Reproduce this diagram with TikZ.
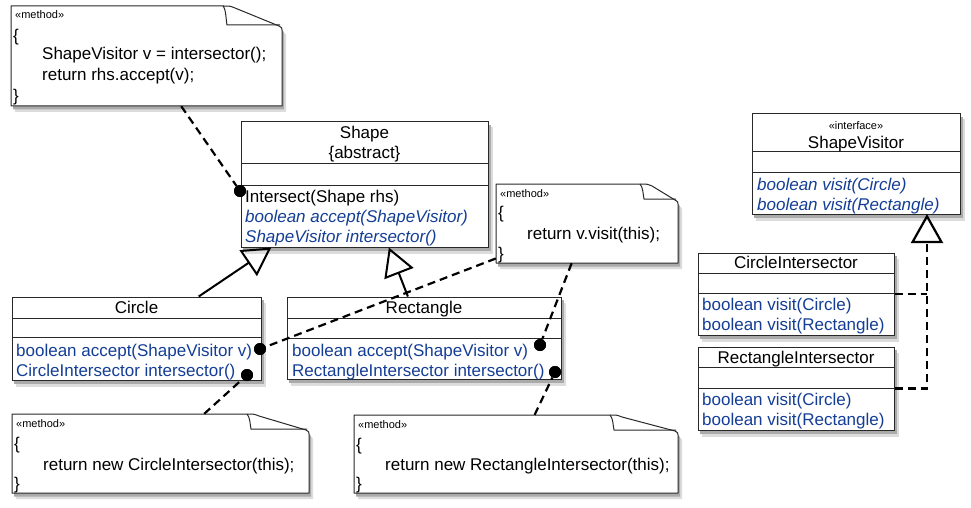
\documentclass[tikz,border=0pt]{standalone}
\usepackage{fontspec}
\setmainfont{Liberation Sans}
\usetikzlibrary{arrows.meta,fit,calc}
\definecolor{umlblue}{RGB}{20,62,150}
\definecolor{edgec}{RGB}{40,40,40}
\definecolor{shadelight}{RGB}{220,220,220}
\definecolor{shadedark}{RGB}{170,170,170}
\pgfdeclarelayer{paper}
\pgfdeclarelayer{shade}
\pgfsetlayers{paper,shade,main}
\tikzset{
  clsbox/.style={fit={#1}, inner sep=0pt, draw=edgec, line width=1pt, fill=white},
  sepline/.style={draw=edgec, line width=1pt},
  ttl/.style={anchor=base, inner sep=0pt, font=\fontsize{17}{20}\selectfont},
  opsit/.style={anchor=base west, inner sep=0pt, font=\fontsize{17}{20}\selectfont\itshape, text=umlblue},
  opsup/.style={anchor=base west, inner sep=0pt, font=\fontsize{17}{20}\selectfont, text=umlblue},
  opk/.style={anchor=base west, inner sep=0pt, font=\fontsize{17}{20}\selectfont},
  stereo/.style={anchor=base, inner sep=0pt, font=\fontsize{11}{13}\selectfont},
  notetxt/.style={anchor=base west, inner sep=0pt, font=\fontsize{17}{20}\selectfont},
  notest/.style={anchor=base west, inner sep=0pt, font=\fontsize{11}{13}\selectfont},
  noteframe/.style={fill=white, draw=edgec, line width=1pt, line join=round},
  dashconn/.style={draw=black, line width=2.2pt, dash pattern=on 8pt off 5pt},
  genconn/.style={draw=black, line width=2pt, -{Triangle[open, length=28pt, width=31pt]}},
  dotn/.style={circle, fill=black, inner sep=0pt, minimum size=12pt},
}
% class box with shadow: #1 name, #2 L, #3 T, #4 R, #5 B
\newcommand\umlclass[5]{%
  \node[clsbox={(#2,#3) (#4,#5)}] (#1) {};
  \begin{pgfonlayer}{shade}
    \fill[shadelight] ([xshift=4pt,yshift=-6pt]#1.south west) rectangle ([xshift=4pt,yshift=-6pt]#1.north east);
    \fill[shadedark] ([xshift=2pt,yshift=-3.5pt]#1.south west) rectangle ([xshift=2pt,yshift=-3.5pt]#1.north east);
  \end{pgfonlayer}
}
% note outline path: L T R B foldx foldh
\newcommand\notepath[6]{(#1,#2) -- (#5,#2) .. controls ({#5+7},#2) .. ({#5+12},{#2+2})
    -- ({#3-3},{#2+#6-4}) .. controls (#3,{#2+#6-2}) .. (#3,{#2+#6})
    -- (#3,#4) -- (#1,#4) -- cycle}
% #1 name, #2 L, #3 T, #4 R, #5 B, #6 fold x, #7 fold height
\newcommand\foldnote[7]{%
  \node[fit={(#2,#3) (#4,#5)}, inner sep=0pt] (#1) {};
  \begin{pgfonlayer}{shade}
    \begin{scope}[shift={(4,6)}]\fill[shadelight] \notepath{#2}{#3}{#4}{#5}{#6}{#7};\end{scope}
    \begin{scope}[shift={(2,3.5)}]\fill[shadedark] \notepath{#2}{#3}{#4}{#5}{#6}{#7};\end{scope}
  \end{pgfonlayer}
  \path[noteframe] \notepath{#2}{#3}{#4}{#5}{#6}{#7};
  \draw[edgec, line width=1pt] (#6,#3) .. controls ({#6+3},{#3+3}) and ({#6+3},{#3+#7-10}) .. ({#6+4},{#3+#7-5}) -- ({#4-2},{#3+#7-5});
}
\begin{document}
\begin{tikzpicture}[x=1pt,y=-1pt]
\useasboundingbox (0,0) rectangle (971,508);
\begin{pgfonlayer}{paper}
\fill[white] (0,0) rectangle (971,508);
\end{pgfonlayer}

% ---------- notes ----------
\foldnote{n1}{11}{6}{282}{106}{223}{24}
\node[notest] (n1s) at (15,19) {«method»};
\node[notetxt] (n1a) at (13,42) {\{};
\node[notetxt] (n1b) at (42,60) {ShapeVisitor v = intersector();};
\node[notetxt] (n1c) at (42,81) {return rhs.accept(v);};
\node[notetxt] (n1d) at (13,102) {\}};

\foldnote{n2}{496}{184}{678}{263}{640}{20}
\node[notest] (n2s) at (500,197) {«method»};
\node[notetxt] (n2a) at (498,218) {\{};
\node[notetxt] (n2b) at (527,239) {return v.visit(this);};
\node[notetxt] (n2d) at (498,259) {\}};

\foldnote{n3}{12}{414}{309}{493}{247}{20}
\node[notest] (n3s) at (16,427) {«method»};
\node[notetxt] (n3a) at (14,449) {\{};
\node[notetxt] (n3b) at (43,470) {return new CircleIntersector(this);};
\node[notetxt] (n3d) at (14,489) {\}};

\foldnote{n4}{354}{415}{678}{493}{610}{20}
\node[notest] (n4s) at (358,428) {«method»};
\node[notetxt] (n4a) at (356,450) {\{};
\node[notetxt] (n4b) at (385,470) {return new RectangleIntersector(this);};
\node[notetxt] (n4d) at (356,489) {\}};

% ---------- classes ----------
\umlclass{shape}{241}{122}{488}{247}
\draw[sepline] (241,163) -- (488,163);
\draw[sepline] (241,185) -- (488,185);
\node[ttl] (shapet) at (364.5,139) {Shape};
\node[ttl] (shapea) at (364.5,158) {\{abstract\}};
\node[opk] (shapeo1) at (245,202) {Intersect(Shape rhs)};
\node[opsit] (shapeo2) at (245,222) {boolean accept(ShapeVisitor)};
\node[opsit] (shapeo3) at (245,242) {ShapeVisitor intersector()};

\umlclass{circle}{12}{297}{261}{380}
\draw[sepline] (12,318) -- (261,318);
\draw[sepline] (12,337) -- (261,337);
\node[ttl] (circlet) at (136.5,313.5) {Circle};
\node[opsup] (circleo1) at (16,356) {boolean accept(ShapeVisitor v)};
\node[opsup] (circleo2) at (16,376) {CircleIntersector intersector()};

\umlclass{rect}{287}{297}{561}{379}
\draw[sepline] (287,318) -- (561,318);
\draw[sepline] (287,338) -- (561,338);
\node[ttl] (rectt) at (424,313.5) {Rectangle};
\node[opsup] (recto1) at (292,356) {boolean accept(ShapeVisitor v)};
\node[opsup] (recto2) at (292,376) {RectangleIntersector intersector()};

\umlclass{sv}{752}{114}{960}{214}
\draw[sepline] (752,151) -- (960,151);
\draw[sepline] (752,172) -- (960,172);
\node[stereo] (svs) at (856,129) {«interface»};
\node[ttl] (svt) at (856,148) {ShapeVisitor};
\node[opsit] (svo1) at (757,190) {boolean visit(Circle)};
\node[opsit] (svo2) at (757,210) {boolean visit(Rectangle)};

\umlclass{ci}{698}{253}{894}{335}
\draw[sepline] (698,273) -- (894,273);
\draw[sepline] (698,293) -- (894,293);
\node[ttl] (cit) at (796,268) {CircleIntersector};
\node[opsup] (cio1) at (702,310) {boolean visit(Circle)};
\node[opsup] (cio2) at (702,330) {boolean visit(Rectangle)};

\umlclass{ri}{698}{347}{894}{430}
\draw[sepline] (698,367) -- (894,367);
\draw[sepline] (698,388) -- (894,388);
\node[ttl] (rit) at (796,363) {RectangleIntersector};
\node[opsup] (rio1) at (702,405) {boolean visit(Circle)};
\node[opsup] (rio2) at (702,425) {boolean visit(Rectangle)};

% ---------- dots ----------
\node[dotn] (dS) at (240,191) {};
\node[dotn] (dCa) at (260,349) {};
\node[dotn] (dCi) at (247,375) {};
\node[dotn] (dRa) at (540,345) {};
\node[dotn] (dRi) at (555,372) {};

% ---------- connectors ----------
\draw[dashconn] (n1) -- (dS);
\draw[dashconn] (n2) -- (dCa);
\draw[dashconn] (n2) -- (dRa);
\draw[dashconn] (n3) -- (dCi);
\draw[dashconn] (n4) -- (dRi);

\draw[genconn] (circle) -- (shape);
\draw[genconn] (rect) -- (shape);

\coordinate (svin) at (927,214);
\draw[dashconn, -{Triangle[open, length=29pt, width=32pt]}] (ri.east) -| (svin);
\draw[dashconn] (ci.east) -- (ci.east -| svin);

% dots on top
\fill (dS) circle (6pt);
\fill (dCa) circle (6pt);
\fill (dCi) circle (6pt);
\fill (dRa) circle (6pt);
\fill (dRi) circle (6pt);
\end{tikzpicture}
\end{document}
